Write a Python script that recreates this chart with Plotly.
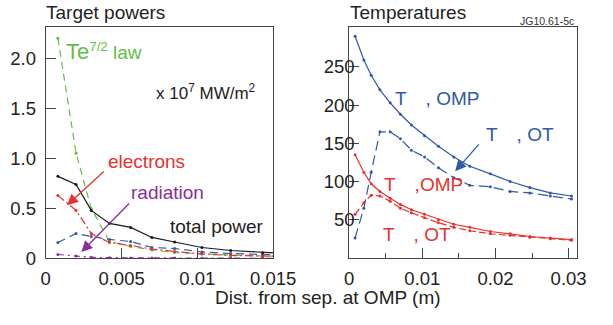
import plotly.graph_objects as go

# ---------------- data ----------------
x_omp = [0.0008, 0.002, 0.003, 0.0042, 0.0056, 0.007, 0.0085, 0.0103, 0.0122, 0.0143,
         0.0165, 0.0193, 0.022, 0.0247, 0.0275, 0.0304]

# Target powers (x 1e7 MW/m2), first 11 points
p_total = [0.82, 0.74, 0.48, 0.35, 0.31, 0.21, 0.165, 0.11, 0.08, 0.058, 0.045]
p_elec = [0.63, 0.48, 0.25, 0.16, 0.13, 0.095, 0.07, 0.045, 0.03, 0.022, 0.02]
p_ion = [0.16, 0.25, 0.22, 0.19, 0.17, 0.11, 0.10, 0.065, 0.05, 0.035, 0.03]
p_law = [2.2, 1.05, 0.5, 0.17, 0.12, 0.085, 0.06, 0.045, 0.035, 0.025, 0.02]
p_rad = [0.04, 0.026, 0.012, 0.008, 0.006, 0.005, 0.004, 0.003, 0.003, 0.002, 0.002]

# Temperatures (eV)
ti_omp = [290, 259, 239, 220, 203, 188, 174, 160, 146, 132, 120, 110, 100, 92, 85, 81]
ti_ot = [26, 65, 112, 165, 165, 156, 141, 132, 118, 105, 95, 93, 87, 85, 81, 77]
te_omp = [135, 112, 97, 87, 78, 70, 63, 57, 50, 44, 40, 34.5, 31.5, 28, 26, 24]
te_ot = [57, 72, 82, 81, 74, 65, 59, 52.5, 46, 40, 35.5, 31.5, 29.5, 27, 25, 23]

left_xticks = [0, 0.005, 0.01, 0.015]
left_xlabels = ["0", "0.005", "0.01", "0.015"]
left_yticks = [0, 0.5, 1.0, 1.5, 2.0]
left_ylabels = ["0", "0.5", "1.0", "1.5", "2.0"]
right_xticks = [0, 0.01, 0.02, 0.03]
right_xlabels = ["0", "0.01", "0.02", "0.03"]
right_yticks = [50, 100, 150, 200, 250]
right_ylabels = ["50", "100", "150", "200", "250"]

# ---------------- style ----------------
BLUE = "#2f5aa8"
RED = "#e8302d"
GREEN = "#62bd4a"
PURPLE = "#8b2d9b"
BLACK = "#1a1a1a"
FONT = "Liberation Sans, Arial, Helvetica, sans-serif"
W, H = 613, 325


def px(x):
    return x / W


def py(y):
    return 1 - y / H


fig = go.Figure()


def add(x, y, color, dash, xa, ya):
    n = len(y)
    fig.add_trace(go.Scatter(
        x=x[:n], y=y, mode="lines+markers", xaxis=xa, yaxis=ya,
        line=dict(color=color, width=1.2, dash=dash),
        marker=dict(color=color, size=3), showlegend=False, cliponaxis=True))


add(x_omp, p_law, GREEN, "7px,5px", "x", "y")
add(x_omp, p_ion, BLUE, "8px,5px", "x", "y")
add(x_omp, p_elec, RED, "8px,3px,2px,3px", "x", "y")
add(x_omp, p_rad, PURPLE, "6px,4px,2px,4px", "x", "y")
add(x_omp, p_total, BLACK, "solid", "x", "y")

add(x_omp, ti_ot, BLUE, "10px,5px", "x2", "y2")
add(x_omp, ti_omp, BLUE, "solid", "x2", "y2")
add(x_omp, te_ot, RED, "7px,3px", "x2", "y2")
add(x_omp, te_omp, RED, "solid", "x2", "y2")

axis_common = dict(showline=True, linecolor="#444", linewidth=1, mirror=True,
                   ticks="inside", ticklen=10, tickcolor="#444", tickwidth=1,
                   showgrid=False, zeroline=False,
                   tickfont=dict(family=FONT, size=18.5, color="#222"))

ytop = py(28)
ybot = py(266.7)

fig.update_layout(
    width=W, height=H, margin=dict(l=0, r=0, t=0, b=0),
    paper_bgcolor="white", plot_bgcolor="white", showlegend=False,
    xaxis=dict(domain=[px(42.7), px(281)], range=[0, 0.015], ticklabelstandoff=3,
               tickvals=left_xticks, ticktext=left_xlabels, anchor="y", **axis_common),
    yaxis=dict(domain=[ybot, ytop], range=[0, 2.31], ticklabelstandoff=5,
               tickvals=left_yticks, ticktext=left_ylabels, anchor="x", **axis_common),
    xaxis2=dict(domain=[px(360.7), px(599)], range=[0, 0.0311], ticklabelstandoff=3,
                tickvals=right_xticks, ticktext=right_xlabels, anchor="y2",
                minor=dict(tickvals=[0.005, 0.015, 0.025], ticks="inside", ticklen=5,
                           tickcolor="#444"),
                **axis_common),
    yaxis2=dict(domain=[ybot, ytop], range=[-0.8, 302], ticklabelstandoff=-10,
                tickvals=right_yticks, ticktext=right_ylabels, anchor="x2", **axis_common),
)


def text(x, y, s, color, size=19, xanchor="left", yanchor="middle"):
    fig.add_annotation(x=px(x), y=py(y), xref="paper", yref="paper", text=s,
                       showarrow=False, xanchor=xanchor, yanchor=yanchor,
                       font=dict(family=FONT, size=size, color=color))


def arrow(tail, tip, color):
    fig.add_annotation(x=px(tip[0]), y=py(tip[1]), xref="paper", yref="paper",
                       ax=tail[0] - tip[0], ay=tail[1] - tip[1], text="",
                       showarrow=True, arrowhead=2, arrowsize=1.7, arrowwidth=1.3,
                       arrowcolor=color)


text(41, 13, "Target powers", "#222")
text(359, 13, "Temperatures", "#222")
text(598, 22, "JG10.61-5c", "#333", size=10.5, xanchor="right")
text(62, 53, "<span style='font-size:22px'>Te</span><sup>7/2</sup> law", GREEN)
text(156, 95, "x 10<sup>7</sup> MW/m<sup>2</sup>", "#222", size=17)
text(106, 167, "electrons", RED)
text(130, 199, "radiation", PURPLE)
text(171, 234, "total power", "#222")
text(407, 102, "T\u2002\u2002, OMP", BLUE)
text(502, 139, "T\u2002\u2002, OT", BLUE)
text(395, 190, "T\u2002\u2002,OMP", RED)
text(394, 242, "T\u2002\u2002, OT", RED)
text(338, 307, "Dist. from sep. at OMP (m)", "#222", xanchor="center")

arrow((103.3, 176.7), (65, 211.7), RED)
arrow((129.3, 210), (80, 260), PURPLE)
arrow((496.7, 148.3), (471.7, 176.7), BLUE)

fig.write_html("out.html")
